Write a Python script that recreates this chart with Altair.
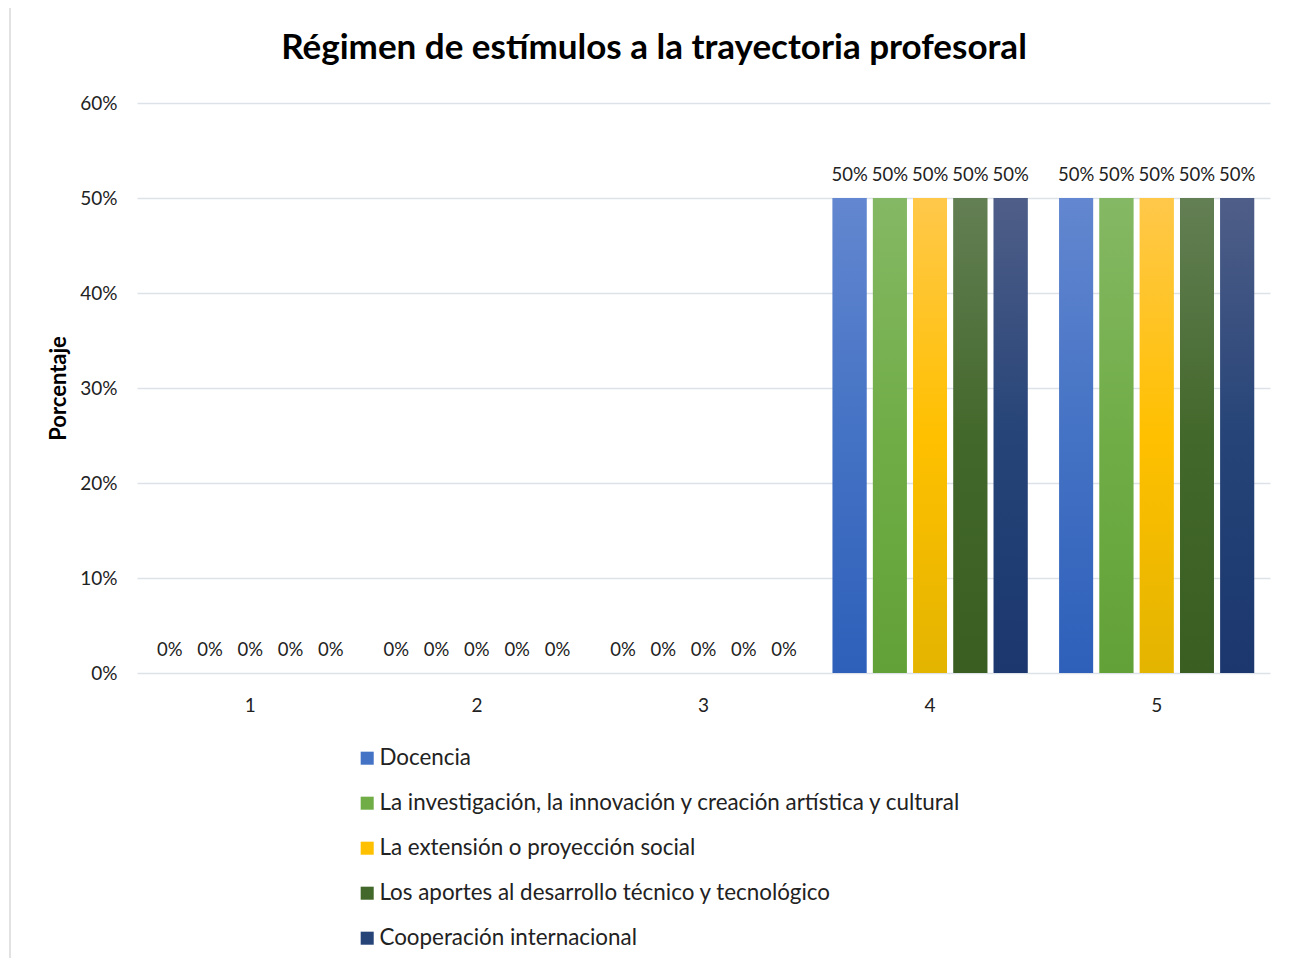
import altair as alt
import pandas as pd

categories = ["1", "2", "3", "4", "5"]
series = [
    "Docencia",
    "La investigación, la innovación y creación artística y cultural",
    "La extensión o proyección social",
    "Los aportes al desarrollo técnico y tecnológico",
    "Cooperación internacional",
]
docencia = [0.0, 0.0, 0.0, 0.5, 0.5]
investigacion = [0.0, 0.0, 0.0, 0.5, 0.5]
extension = [0.0, 0.0, 0.0, 0.5, 0.5]
aportes = [0.0, 0.0, 0.0, 0.5, 0.5]
cooperacion = [0.0, 0.0, 0.0, 0.5, 0.5]

title_text = "Régimen de estímulos a la trayectoria profesoral"

mid_colors = ["#4472C4", "#70AD47", "#FFC000", "#43682B", "#264478"]
top_colors = ["#6387D0", "#85B864", "#FFC84A", "#637F54", "#4F5E88"]
bot_colors = ["#2E60BA", "#62A137", "#E3B400", "#3A5E22", "#1B376E"]

values = [docencia, investigacion, extension, aportes, cooperacion]
rows = []
for si, (s, vals) in enumerate(zip(series, values)):
    for c, v in zip(categories, vals):
        rows.append({"cat": c, "serie": s, "idx": si, "val": v})
df = pd.DataFrame(rows)


def grad(i):
    return {
        "gradient": "linear",
        "x1": 0, "y1": 0, "x2": 0, "y2": 1,
        "stops": [
            {"offset": 0, "color": top_colors[i]},
            {"offset": 0.5, "color": mid_colors[i]},
            {"offset": 1, "color": bot_colors[i]},
        ],
    }


FONT = "Lato"

x_enc = alt.X("cat:N", sort=categories,
              scale=alt.Scale(paddingInner=0.14, paddingOuter=0.07),
              axis=alt.Axis(title=None, labelAngle=0, domain=False, ticks=False,
                            grid=False, labelFontSize=19, labelPadding=23,
                            labelColor="#222222", labelFont=FONT))
xo_enc = alt.XOffset("serie:N", sort=series,
                     scale=alt.Scale(paddingInner=0.16, paddingOuter=0))
y_enc = alt.Y("val:Q", scale=alt.Scale(domain=[0, 0.6]),
              axis=alt.Axis(title="Porcentaje", format=".0%",
                            values=[0, 0.1, 0.2, 0.3, 0.4, 0.5, 0.6],
                            domain=False, ticks=False, grid=True,
                            gridColor="#DDE1E8", gridWidth=1.5,
                            labelFontSize=19, labelPadding=20, labelColor="#222222",
                            labelFont=FONT, titleFont=FONT, titleFontSize=22,
                            titleFontWeight="bold", titleColor="#000000",
                            titlePadding=9))

base = alt.Chart(df)

solid = base.mark_bar().encode(
    x=x_enc, xOffset=xo_enc, y=y_enc,
    color=alt.Color("serie:N", sort=series,
                    scale=alt.Scale(domain=series, range=mid_colors),
                    legend=alt.Legend(title=None, orient="none", legendX=219, legendY=644,
                                      direction="vertical", symbolType="square",
                                      symbolSize=170, symbolStrokeWidth=0,
                                      labelFontSize=22.4, labelFont=FONT,
                                      labelColor="#222222", rowPadding=22,
                                      labelOffset=1, labelLimit=800)),
)

gradient = base.mark_bar().encode(
    x=x_enc, xOffset=xo_enc, y=y_enc,
    fill=alt.FillValue(
        value=grad(4),
        condition=[{"test": f"datum.idx === {i}", "value": grad(i)} for i in range(4)],
    ),
)

labels = base.mark_text(baseline="middle", dy=-23, fontSize=18.5, font=FONT,
                        color="#222222").encode(
    x=x_enc, xOffset=xo_enc, y=y_enc,
    text=alt.Text("val:Q", format=".0%"),
)

border = alt.Chart(alt.Data(values=[{}])).mark_rect(
    fill=None, stroke="#D9D9D9", strokeWidth=1.5
).encode(
    x=alt.value(-127), x2=alt.value(1180),
    y=alt.value(-98), y2=alt.value(900),
)

title = alt.Chart(alt.Data(values=[{"t": title_text}])).mark_text(
    fontSize=35, font=FONT, fontWeight="bold", color="#000000",
    align="center", baseline="middle",
).encode(
    x=alt.value(517), y=alt.value(-55), text="t:N",
)

chart = alt.layer(border, title, solid, gradient, labels).properties(
    width=1133,
    height=570,
    autosize=alt.AutoSizeParams(type="none"),
    padding={"left": 129, "top": 95, "right": 18, "bottom": 285},
    background="white",
).configure_view(stroke=None)

chart.save("out.html", embed_options={"renderer": "svg", "actions": False})
